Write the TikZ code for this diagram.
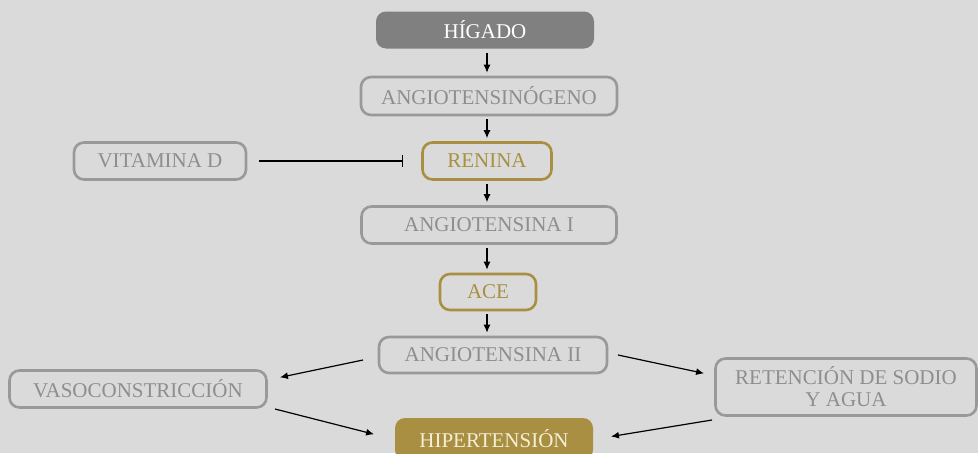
\documentclass[tikz,border=0pt]{standalone}
\usepackage{fontspec}
\setmainfont{Liberation Serif}
\usetikzlibrary{positioning,arrows.meta}
\definecolor{fondo}{HTML}{DADADA}
\definecolor{gris}{HTML}{999999}
\definecolor{grisT}{HTML}{8E8E8E}
\definecolor{oro}{HTML}{A98F42}
\definecolor{higadogris}{HTML}{808080}
\definecolor{crema}{HTML}{F5EED7}
\tikzstyle{caja} = [draw=gris, line width=2.6pt, rounded corners=10pt, text=grisT, font=\fontsize{21}{22}\selectfont, inner sep=0pt, align=center]
\tikzstyle{cajaoro} = [caja, draw=oro, text=oro]
\tikzstyle{llena} = [caja, draw=none, fill=#1, text=white]
\tikzstyle{flecha} = [-{Latex[length=8pt,width=7pt]}, line width=1.2pt, shorten >=3pt, shorten <=3pt]

\begin{document}
\begin{tikzpicture}[x=1pt, y=-1pt, >=latex]

\fill [fondo] (0,0) rectangle (978,453);
\useasboundingbox (0,0) rectangle (978,453);

\node [llena=higadogris, minimum width=218pt, minimum height=37pt] (higado) at (485,30) {HÍGADO};
\node [caja, minimum width=256pt, minimum height=38pt] (angiotensinogeno) at (489,96) {ANGIOTENSINÓGENO};
\node [cajaoro, minimum width=129pt, minimum height=37pt] (renina) at (487,161) {RENINA};
\node [caja, minimum width=172pt, minimum height=37pt] (vitamina) at (160,161) {VITAMINA D};
\node [caja, minimum width=255pt, minimum height=37pt] (angio1) at (489,225) {ANGIOTENSINA I};
\node [cajaoro, minimum width=96pt, minimum height=36pt] (ace) at (488,292) {ACE};
\node [caja, minimum width=228pt, minimum height=36pt] (angio2) at (493,355) {ANGIOTENSINA II};
\node [caja, minimum width=257pt, minimum height=37pt] (vaso) at (138,389) {VASOCONSTRICCIÓN};
\node [caja, minimum width=261pt, minimum height=57pt] (retencion) at (846,387) {RETENCIÓN DE SODIO\\Y AGUA};
\node [llena=oro, minimum width=198pt, minimum height=42pt, text=crema] (hiper) at (494,439) {HIPERTENSIÓN};

% cadena principal
\draw [flecha] (higado.south -| renina) -- (angiotensinogeno.north -| renina);
\draw [flecha] (angiotensinogeno.south -| renina) -- (renina.north);
\draw [flecha] (renina.south) -- (angio1.north -| renina);
\draw [flecha] (angio1.south -| renina) -- (ace.north -| renina);
\draw [flecha] (ace.south -| renina) -- (angio2.north -| renina);

% inhibicion
\draw [-{Bar[width=12pt]}, line width=1.2pt, shorten <=12pt, shorten >=18pt] (vitamina) -- (renina);

% efectos
\coordinate (a2izq) at (363,360);
\coordinate (a2der) at (618,355);
\coordinate (vasoder) at (275,409);
\coordinate (retizq) at (712,420);
\draw [flecha, shorten <=0pt] (a2izq) -- (277,378);
\draw [flecha, shorten <=0pt] (a2der) -- (707,374);
\draw [flecha, shorten <=0pt] (vasoder) -- (377,435);
\draw [flecha, shorten <=0pt] (retizq) -- (608,437);

\end{tikzpicture}
\end{document}
